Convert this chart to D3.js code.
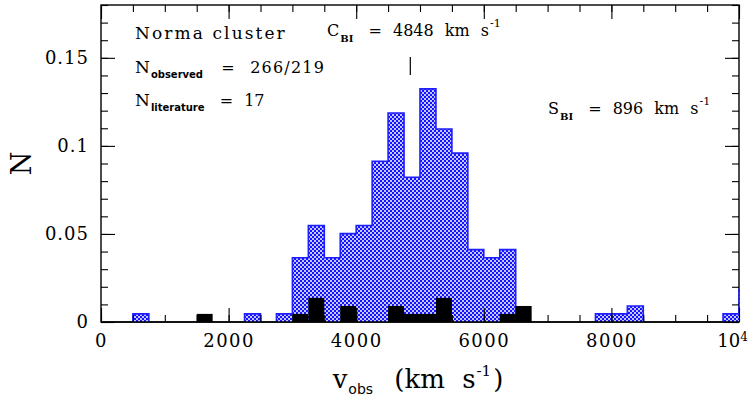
<!DOCTYPE html>
<html>
<head>
<meta charset="utf-8">
<script src="https://cdn.jsdelivr.net/npm/d3@7"></script>
<style>
  body { margin: 0; background: #fff; }
  text { font-family: "DejaVu Serif", serif; fill: #000; }
</style>
</head>
<body>
<svg id="chart" width="754" height="400"></svg>
<script>
// Velocity histogram of the Norma cluster, 250 km/s bins.
const binWidth = 250;

// Observed redshifts: lower bin edge (km/s) and normalised counts N.
// The bin at 10000 lies past the axis and only shows as an edge.
const observedStart = [500, 2250, 2750, 3000, 3250, 3500, 3750, 4000, 4250, 4500, 4750,
                       5000, 5250, 5500, 5750, 6000, 6250, 7750, 8000, 8250, 9750, 10000];
const observedN     = [0.0046, 0.0046, 0.0046, 0.0365, 0.0548, 0.0365, 0.0502, 0.0548, 0.0913, 0.1187, 0.0822,
                       0.1324, 0.1096, 0.0959, 0.0411, 0.0365, 0.0411, 0.0046, 0.0046, 0.0091, 0.0046, 0.0183];

// Literature redshifts.
const literatureStart = [1500, 3000, 3250, 3750, 4500, 4750, 5000, 5250, 6250, 6500];
const literatureN     = [0.0046, 0.0046, 0.0137, 0.0091, 0.0091, 0.0046, 0.0046, 0.0137, 0.0046, 0.0091];

// Biweight location and scale.
const cBI = 4848;
const sBI = 896;

const xMajor = [0, 2000, 4000, 6000, 8000, 10000];
const xMinor = d3.range(0, 10001, 500);
const yMajor = [0, 0.05, 0.1, 0.15];
const yMinor = d3.range(0, 0.1801, 0.01);
const yTickLabels = ["0", "0.05", "0.1", "0.15"];

const W = 754, H = 400;
const margin = { left: 101, right: 15, top: 5, bottom: 78 };

const svg = d3.select("#chart");

const x = d3.scaleLinear().domain([0, 10000]).range([margin.left, W - margin.right]);
const y = d3.scaleLinear().domain([0, 0.18]).range([H - margin.bottom, margin.top]);

// checker fill for the observed histogram
const defs = svg.append("defs");
const pat = defs.append("pattern")
  .attr("id", "checker").attr("patternUnits", "userSpaceOnUse")
  .attr("width", 4).attr("height", 4);
pat.append("rect").attr("width", 4).attr("height", 4).attr("fill", "#c4c4ff");
pat.append("rect").attr("x", 0).attr("y", 0).attr("width", 2).attr("height", 2).attr("fill", "#1414ff");
pat.append("rect").attr("x", 2).attr("y", 2).attr("width", 2).attr("height", 2).attr("fill", "#1414ff");

defs.append("clipPath").attr("id", "plotClip")
  .append("rect")
  .attr("x", x(0) - 1).attr("y", y(0.18) - 1)
  .attr("width", x(10000) - x(0) + 2).attr("height", y(0) - y(0.18) + 2);

// frame
svg.append("rect")
  .attr("x", x(0)).attr("y", y(0.18))
  .attr("width", x(10000) - x(0)).attr("height", y(0) - y(0.18))
  .attr("fill", "none").attr("stroke", "#000").attr("stroke-width", 1.4);

// step outline of contiguous bins
function stepPath(starts, vals) {
  let d = "";
  starts.forEach((s, i) => {
    const contiguous = i > 0 && starts[i - 1] + binWidth === s;
    if (!contiguous) d += `M${x(s)},${y(0)}`;
    d += `L${x(s)},${y(vals[i])}L${x(s + binWidth)},${y(vals[i])}`;
    const nextContiguous = i < starts.length - 1 && starts[i + 1] === s + binWidth;
    if (!nextContiguous) d += `L${x(s + binWidth)},${y(0)}`;
  });
  return d;
}

const plot = svg.append("g").attr("clip-path", "url(#plotClip)");

plot.append("path")
  .attr("d", stepPath(observedStart, observedN) + "Z")
  .attr("fill", "url(#checker)").attr("stroke", "none");
plot.append("path")
  .attr("d", stepPath(observedStart, observedN))
  .attr("fill", "none").attr("stroke", "#1e1eff").attr("stroke-width", 1.6);

plot.selectAll("rect.lit")
  .data(literatureStart.map((s, i) => ({ s, n: literatureN[i] })))
  .join("rect").attr("class", "lit")
  .attr("x", d => x(d.s)).attr("width", d => x(d.s + binWidth) - x(d.s))
  .attr("y", d => y(d.n)).attr("height", d => y(0) - y(d.n))
  .attr("fill", "#000");

// bottom line of the frame on top of the bars
svg.append("line")
  .attr("x1", x(0)).attr("x2", x(10000)).attr("y1", y(0)).attr("y2", y(0))
  .attr("stroke", "#000").attr("stroke-width", 1.4);

// ticks on all four sides, pointing inward
function ticks(axisFn, scale, values, size, transform) {
  const a = axisFn(scale).tickValues(values).tickSize(-size).tickFormat("");
  const g = svg.append("g").attr("transform", transform).call(a);
  g.select(".domain").remove();
  g.selectAll(".tick line").attr("stroke", "#000").attr("stroke-width", 1.1);
  return g;
}
const bottomY = `translate(0,${y(0)})`, topY = `translate(0,${y(0.18)})`;
const leftX = `translate(${x(0)},0)`, rightX = `translate(${x(10000)},0)`;
ticks(d3.axisBottom, x, xMinor, 7, bottomY);
ticks(d3.axisBottom, x, xMajor, 14, bottomY);
ticks(d3.axisTop, x, xMinor, 7, topY);
ticks(d3.axisTop, x, xMajor, 14, topY);
ticks(d3.axisLeft, y, yMinor, 7, leftX);
ticks(d3.axisLeft, y, yMajor, 14, leftX);
ticks(d3.axisRight, y, yMinor, 7, rightX);
ticks(d3.axisRight, y, yMajor, 14, rightX);

// tick labels
const xLab = svg.append("g").attr("transform", bottomY)
  .call(d3.axisBottom(x).tickValues(xMajor).tickSize(0).tickPadding(12)
    .tickFormat(d => d === 10000 ? "10" : String(d)));
xLab.select(".domain").remove();
xLab.selectAll("text").style("font-family", "DejaVu Serif").style("font-size", "18px")
  .attr("letter-spacing", 1.5);
const tenK = xLab.selectAll(".tick").filter(d => d === 10000).select("text")
  .attr("dx", -7).attr("letter-spacing", 0);
tenK.append("tspan").text("4").attr("dy", "-0.45em").style("font-size", "12px");

const yLab = svg.append("g").attr("transform", leftX)
  .call(d3.axisLeft(y).tickValues(yMajor).tickSize(0).tickPadding(12)
    .tickFormat((d, i) => yTickLabels[i]));
yLab.select(".domain").remove();
yLab.selectAll("text").style("font-family", "DejaVu Serif").style("font-size", "18px")
  .attr("letter-spacing", 1);

// text with sub/superscripts
function rich(x0, y0, parts, opts = {}) {
  const t = svg.append("text").attr("x", x0).attr("y", y0)
    .style("font-size", (opts.size || 16) + "px")
    .attr("word-spacing", opts.ws || 0);
  if (opts.anchor) t.attr("text-anchor", opts.anchor);
  let shift = 0;
  parts.forEach(p => {
    const s = t.append("tspan").text(p.t);
    const target = p.shift || 0;
    s.attr("dy", target - shift);
    shift = target;
    if (p.size) s.style("font-size", p.size + "px");
    if (p.family) s.style("font-family", p.family);
    if (p.weight) s.style("font-weight", p.weight);
    if (p.ls) s.attr("letter-spacing", p.ls);
    if (p.dx) s.attr("dx", p.dx);
  });
  return t;
}

const subSans = { size: 10, family: "DejaVu Sans", weight: "bold", shift: 5 };

rich(135, 38.5, [{ t: "Norma cluster", ls: 2.1 }], { size: 17 });
rich(135, 72.5, [{ t: "N", size: 17 }, { t: "observed", ...subSans, dx: 1 },
                 { t: " = 266/219", dx: 4, ls: 1.2 }], { ws: 8 });
rich(135, 106, [{ t: "N", size: 17 }, { t: "literature", ...subSans, dx: 1 },
                { t: " = " + 17, dx: 4 }], { ws: 6 });

function biLabel(x0, y0, letter, value) {
  rich(x0, y0, [
    { t: letter },
    { t: "BI", size: 10, weight: "bold", shift: 6, dx: 1 },
    { t: " = " + value + " km s", dx: 4 },
    { t: "-1", size: 11, shift: -9, dx: 1 }
  ], { ws: 6 });
}
biLabel(327, 35.5, "C", cBI);
biLabel(548, 114, "S", sBI);

// marker at the biweight location
svg.append("line")
  .attr("x1", x(cBI)).attr("x2", x(cBI)).attr("y1", 57).attr("y2", 75)
  .attr("stroke", "#000").attr("stroke-width", 1.2);

// axis titles
rich(418, 388, [
  { t: "v" },
  { t: "obs", size: 14, family: "DejaVu Sans", shift: 6, dx: 1 },
  { t: " (km s", dx: 4 },
  { t: "-1", size: 15, shift: -12, dx: 1 },
  { t: ")", dx: 2 }
], { size: 26, anchor: "middle", ws: 9 });

svg.append("text")
  .attr("transform", `translate(31,${(y(0) + y(0.18)) / 2}) rotate(-90)`)
  .attr("text-anchor", "middle")
  .style("font-size", "27px")
  .text("N");
</script>
</body>
</html>
